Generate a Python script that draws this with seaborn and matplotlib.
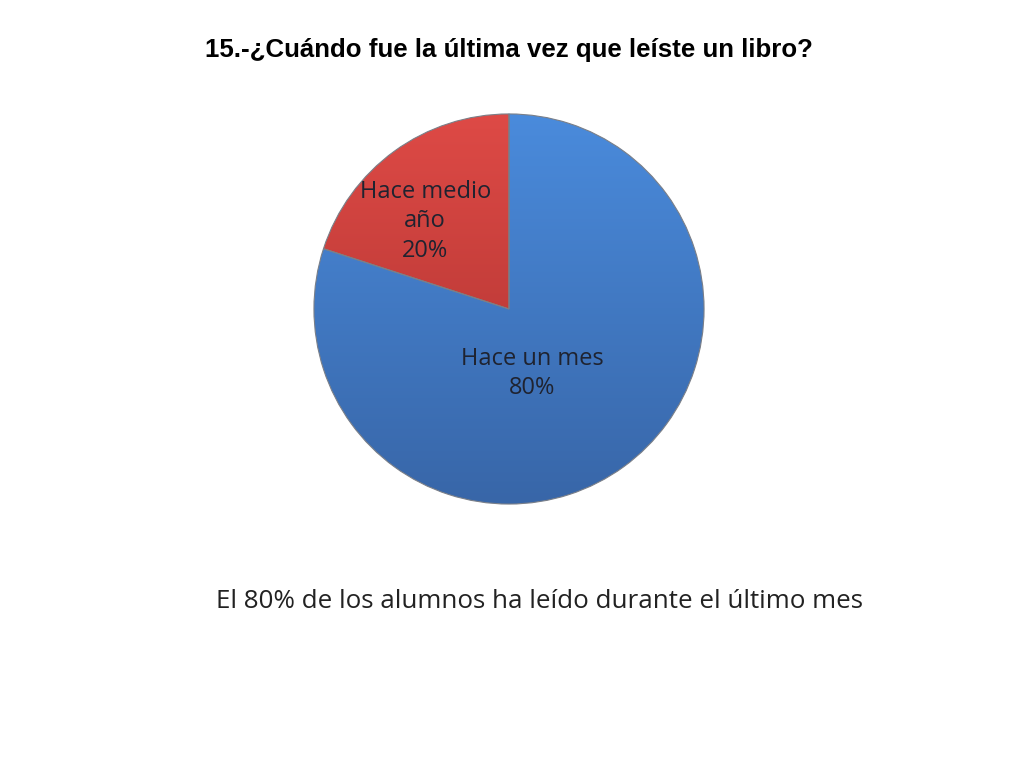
import matplotlib
matplotlib.use("Agg")
import numpy as np
import matplotlib.pyplot as plt
from matplotlib.colors import LinearSegmentedColormap
import seaborn as sns

# datos
categorias = ["Hace un mes", "Hace medio\naño"]
porcentajes = [80, 20]
colores_arriba = ["#4a8bdc", "#de4a46"]
colores_abajo = ["#3866a8", "#a8302d"]
titulo = "15.-¿Cuándo fue la última vez que leíste un libro?"
conclusion = "El 80% de los alumnos ha leído durante el último mes"

sns.set_theme(style="white")
plt.rcParams["font.family"] = ["Open Sans", "DejaVu Sans"]

fig = plt.figure(figsize=(10.24, 7.68), dpi=100)
fig.patch.set_facecolor("white")

# ejes del pastel: centro (509, 309) px, radio 197 px
cx, cy, r = 509, 309, 197
ax = fig.add_axes([(cx - r) / 1024, (768 - cy - r) / 768, 2 * r / 1024, 2 * r / 768])
wedges, _ = ax.pie(porcentajes, colors=colores_arriba, startangle=90, counterclock=False,
                   radius=1, wedgeprops=dict(edgecolor="#7a7f88", linewidth=0.8))

# degradado vertical dentro de cada sector
grad = np.linspace(1, 0, 256).reshape(-1, 1)
for w, c_top, c_bot in zip(wedges, colores_arriba, colores_abajo):
    cmap = LinearSegmentedColormap.from_list("g", [c_bot, c_top])
    im = ax.imshow(grad, cmap=cmap, extent=[-1, 1, -1, 1], aspect="auto", zorder=2)
    im.set_clip_path(w)
    w.set_zorder(3)
    w.set_facecolor("none")
ax.set_xlim(-1.01, 1.01)
ax.set_ylim(-1.01, 1.01)
ax.set_aspect("equal")
ax.axis("off")

# etiquetas dentro de cada sector
posiciones = [(0.12, -0.33), (-0.43, 0.45)]
for cat, pct, (x, y) in zip(categorias, porcentajes, posiciones):
    ax.text(x, y, f"{cat}\n{pct}%", ha="center", va="center", fontsize=17,
            color="#1f2330", linespacing=1.3, zorder=5)

fig.text(509 / 1024, 1 - 50 / 768, titulo, ha="center", va="center",
         fontsize=18.6, fontweight="bold", color="black",
         family=["Liberation Sans", "DejaVu Sans"])
fig.text(540 / 1024, 1 - 601 / 768, conclusion, ha="center", va="center",
         fontsize=18.7, color="#222222")

fig.savefig("out.png", dpi=100, facecolor="white")
